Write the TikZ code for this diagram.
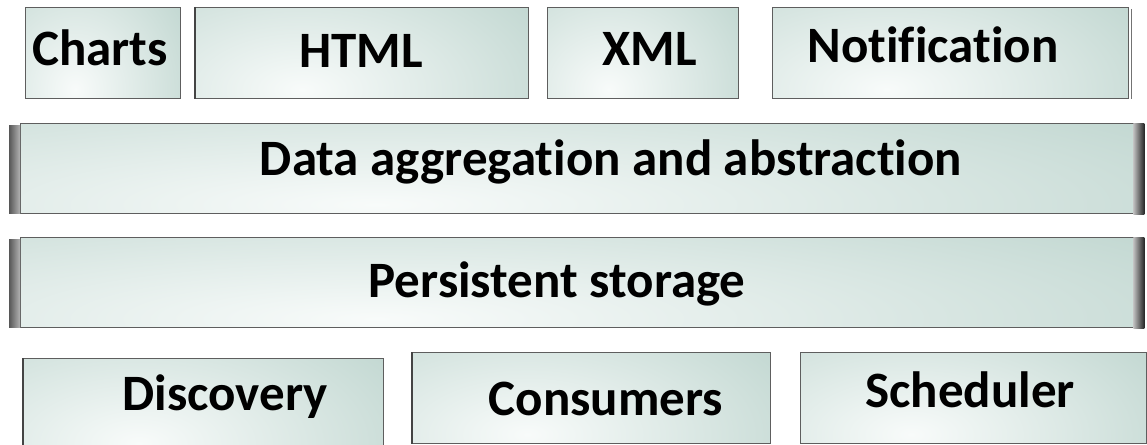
\documentclass[tikz,border=0pt]{standalone}
\usepackage{fontspec}
\setmainfont{Carlito}[Ligatures={NoCommon}]
\usetikzlibrary{calc}
\definecolor{sage}{HTML}{AFCBC3}
\definecolor{glow}{HTML}{F8FBFA}
\definecolor{boxedge}{HTML}{5E5E5E}
\definecolor{darkedge}{HTML}{444444}
\tikzset{
  box/.style={rectangle, draw=boxedge, line width=1.3pt, inner sep=0pt, anchor=north west,
    path picture={
      \fill[sage] (path picture bounding box.south west) rectangle (path picture bounding box.north east);
      \path let \p1=(path picture bounding box.south west), \p2=(path picture bounding box.north east) in
        coordinate (gc) at ({\x1+0.32*(\x2-\x1)},{\y1+0.10*(\y2-\y1)})
        coordinate (gr) at ({1.15*(\x2-\x1)},{2.2*(\y2-\y1)});
      \path let \p3=(gr) in
        \pgfextra{\shade[inner color=glow, outer color=sage] (gc) ellipse ({\x3} and {\y3});};
    }},
  lbl/.style={anchor=base, font=\bfseries\fontsize{51}{55}\selectfont, text=black, inner sep=0pt},
  leftbevel/.style={left color=darkedge!90, right color=black!30},
  rightbevel/.style={left color=black!25, right color=black!85},
  leftedge/.style={draw=darkedge, line width=2.6pt},
}
\begin{document}
\begin{tikzpicture}[x=1pt,y=-1pt]
\useasboundingbox (0,0) rectangle (1147,444);
\clip (0,0) rectangle (1147,444);
% top row
\node[box, minimum width=155pt, minimum height=91pt] (charts) at (25,7) {};
\node[box, minimum width=333pt, minimum height=91pt] (html) at (195,7) {};
\node[box, minimum width=191pt, minimum height=91pt] (xml) at (547,7) {};
\node[box, minimum width=356pt, minimum height=91pt] (notif) at (772,7) {};
\draw[leftedge] (html.north west) -- (html.south west);
\draw[draw=black!55, line width=1.5pt] ($(notif.north east)+(2,2)$) -- ($(notif.south east)+(2,0)$);
% wide bars
\node[box, minimum width=1113pt, minimum height=90pt] (data) at (20,123) {};
\node[box, minimum width=1113pt, minimum height=90pt] (persist) at (20,237) {};
\foreach \b in {data,persist}{
  \shade[leftbevel] ($(\b.north west)+(-11,2)$) rectangle ($(\b.south west)+(0,-1)$);
  \shade[rightbevel] ($(\b.north east)+(-1,0)$) rectangle ($(\b.south east)+(10,0)$);
}
% bottom row
\node[box, minimum width=360pt, minimum height=94pt] (disc) at (23,358) {};
\node[box, minimum width=358pt, minimum height=91pt] (cons) at (412,352) {};
\node[box, minimum width=346pt, minimum height=91pt] (sched) at (800,352) {};
\draw[leftedge] (disc.north west) -- (disc.south west);
\draw[leftedge] (cons.north west) -- (cons.south west);
% labels
\node[lbl] (tcharts) at (100,65) {Charts};
\node[lbl] (thtml) at (361,67) {HTML};
\node[lbl] (txml) at (650,65) {XML};
\node[lbl] (tnotif) at (933,63) {Notification};
\node[lbl] (tdata) at (611,175) {Data aggregation and abstraction};
\node[lbl] (tpersist) at (557,297) {Persistent storage};
\node[lbl] (tdisc) at (225,410) {Discovery};
\node[lbl] (tcons) at (606,415) {Consumers};
\node[lbl] (tsched) at (970,407) {Scheduler};
\end{tikzpicture}
\end{document}
